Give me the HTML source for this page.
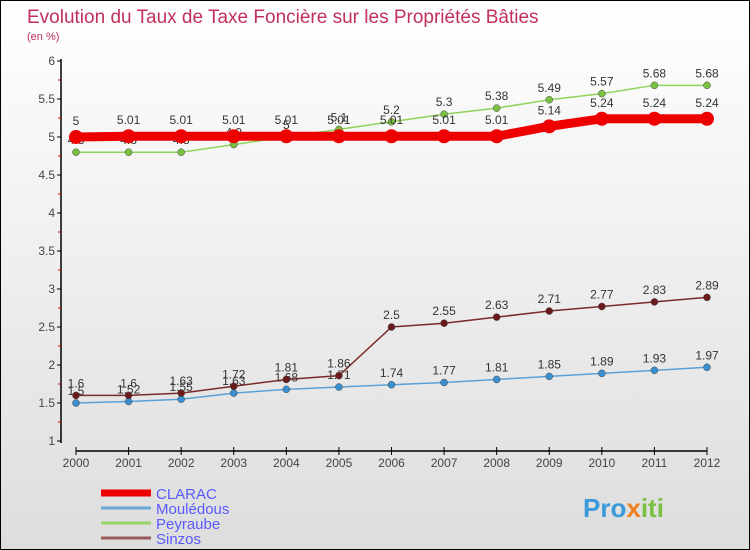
<!DOCTYPE html>
<html><head><meta charset="utf-8"><style>
body{margin:0;}
#wrap{width:748px;height:548px;border:1px solid #000;background:linear-gradient(#fff,#ddd);position:relative;overflow:hidden;font-family:"Liberation Sans",sans-serif;}
</style></head><body>
<div id="wrap">
<svg id="chart" width="748" height="548">
<text x="26" y="22" font-size="19" fill="#c0305a">Evolution du Taux de Taxe Foncière sur les Propriétés Bâties</text>
<text x="26" y="39" font-size="11" fill="#c0305a">(en %)</text>
<g id="axes"></g><g id="series"></g><g id="legend"></g>
<text x="582" y="516" font-size="26" font-weight="bold" fill="#3a9ad9">Pro<tspan fill="#f08020">x</tspan><tspan fill="#7ac142">iti</tspan></text>
</svg>
</div>
<script>
const years=["2000","2001","2002","2003","2004","2005","2006","2007","2008","2009","2010","2011","2012"];
const yTicks=[1,1.5,2,2.5,3,3.5,4,4.5,5,5.5,6];
const clarac=[5,5.01,5.01,5.01,5.01,5.01,5.01,5.01,5.01,5.14,5.24,5.24,5.24];
const mouledous=[1.5,1.52,1.55,1.63,1.68,1.71,1.74,1.77,1.81,1.85,1.89,1.93,1.97];
const peyraube=[4.8,4.8,4.8,4.9,5,5.1,5.2,5.3,5.38,5.49,5.57,5.68,5.68];
const sinzos=[1.6,1.6,1.63,1.72,1.81,1.86,2.5,2.55,2.63,2.71,2.77,2.83,2.89];
const NS="http://www.w3.org/2000/svg";
const X=i=>75+i*(631/12);
const Y=v=>440-(v-1)*76;
function mk(t,a,p){const e=document.createElementNS(NS,t);for(const k in a)e.setAttribute(k,a[k]);p.appendChild(e);return e;}
const ax=document.getElementById('axes');
let yl=mk('line',{x1:60,y1:58,x2:60,y2:442,stroke:'#000','stroke-width':1.5},ax);


let xl=mk('line',{x1:75,y1:450,x2:706,y2:450,stroke:'#000','stroke-width':1.5},ax);


yTicks.forEach(v=>{
 mk('line',{x1:56,y1:Y(v),x2:60,y2:Y(v),stroke:'#000'},ax);
 if(v<6)mk('line',{x1:57,y1:Y(v+0.25),x2:60,y2:Y(v+0.25),stroke:'#d00'},ax);
 const t=mk('text',{x:54,y:Y(v)+4,'font-size':12,fill:'#444','text-anchor':'end'},ax);
 t.textContent=String(v);
 
 
});
years.forEach((y,i)=>{
 mk('line',{x1:X(i),y1:446,x2:X(i),y2:454,stroke:'#000'},ax);
 const t=mk('text',{x:X(i),y:466,'font-size':12,fill:'#444','text-anchor':'middle'},ax);
 t.textContent=y;
 
 
});
const sg=document.getElementById('series');
const defs=[
 {n:'peyraube',d:peyraube,c:'#8fd45a',w:1.5,r:3.5,f:'#7ac142'},
 {n:'mouledous',d:mouledous,c:'#5aa0d8',w:1.5,r:3.5,f:'#3a8fd0'},
 {n:'sinzos',d:sinzos,c:'#7a2a2a',w:1.5,r:3.5,f:'#6a1a1a'},
 {n:'clarac',d:clarac,c:'#ee0000',w:9,r:7,f:'#ee0000'}
];
defs.forEach(s=>{
 const g=mk('g',{},sg);
 
 
 const p=mk('polyline',{points:s.d.map((v,i)=>X(i)+','+Y(v)).join(' '),fill:'none',stroke:s.c,'stroke-width':s.w},g);
 
 
 s.d.forEach((v,i)=>{
  const c=mk('circle',{cx:X(i),cy:Y(v),r:s.r,fill:s.f,stroke:s.n=='clarac'?'none':'#444','stroke-width':0.5},g);
  
  
  const t=mk('text',{x:X(i),y:Y(v)-(s.n=='clarac'?12:8),'font-size':12,fill:'#333','text-anchor':'middle'},g);
  t.textContent=String(v);
  
  
 });
});
const lg=document.getElementById('legend');
const names=['CLARAC','Mouledous','Peyraube','Sinzos'];
const labels=['CLARAC','Mouledous'.replace('e','é'),'Peyraube','Sinzos'];
const lc=['#ee0000','#6aa8d8','#9ad46a','#9a5a5a'],lw=[7,3,3,3];
labels.forEach((n,i)=>{
 const y=492+i*15;
 const l=mk('line',{x1:100,y1:y,x2:150,y2:y,stroke:lc[i],'stroke-width':lw[i]},lg);
 
 
 const t=mk('text',{x:155,y:y+6,'font-size':15,fill:'#5a5aff'},lg);
 t.textContent=n;
 
 
});
</script>
</body></html>
